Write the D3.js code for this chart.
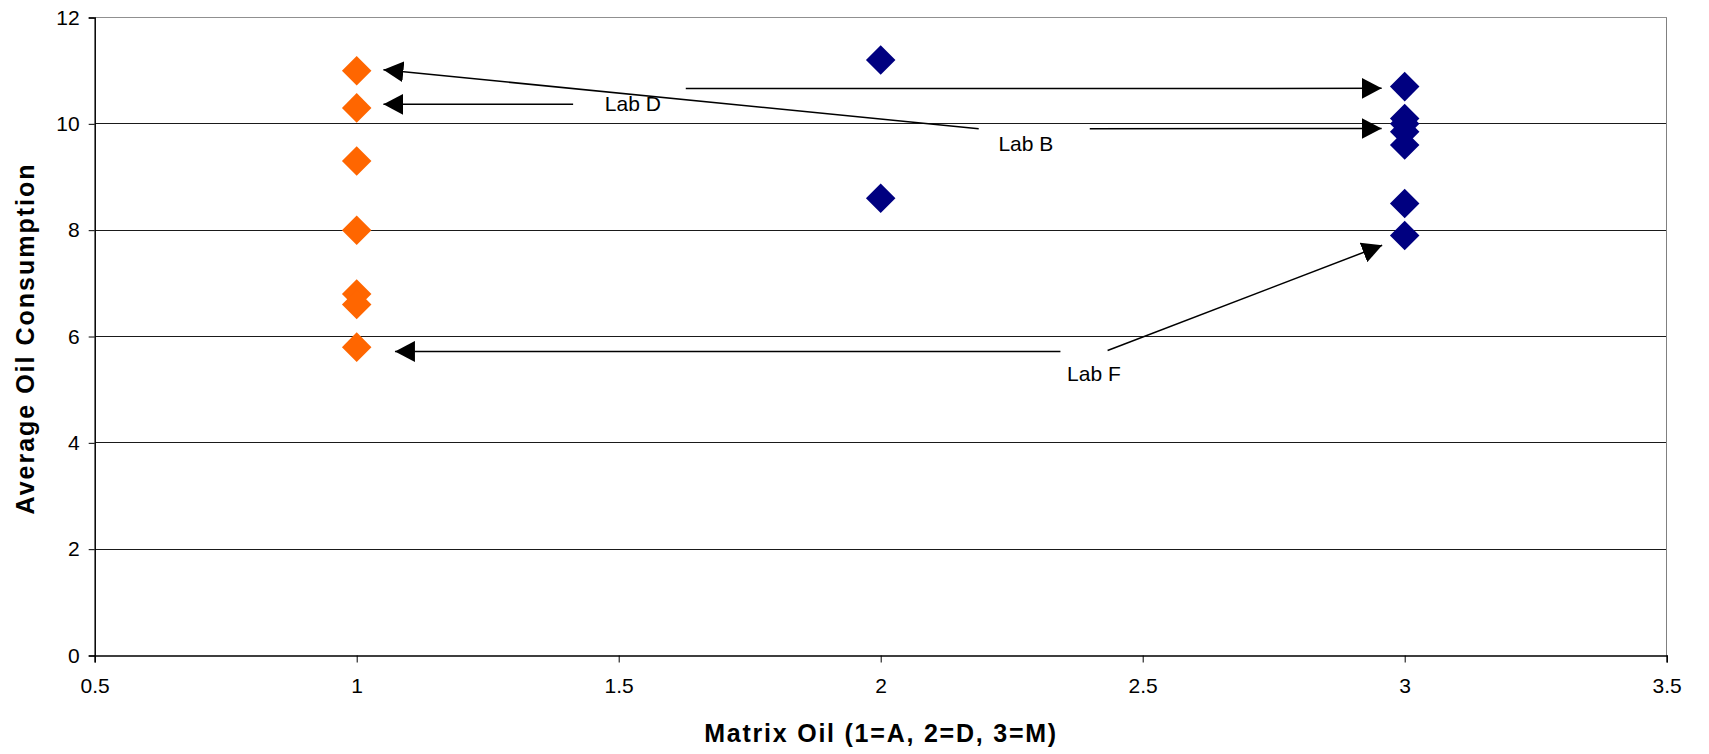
<!DOCTYPE html>
<html lang="en">
<head>
<meta charset="utf-8">
<title>Average Oil Consumption vs Matrix Oil</title>
<script src="https://cdn.jsdelivr.net/npm/d3@7"></script>
<style>
  body { margin: 0; background: #fff; }
  text { font-family: "Liberation Sans", Arial, sans-serif; }
</style>
</head>
<body>
<script>
// matrix oil A (x = 1), orange
var oilAx = [1, 1, 1, 1, 1, 1, 1];
var oilAy = [11.0, 10.3, 9.3, 8.0, 6.8, 6.6, 5.8];
// matrix oil D and M (x = 2, 3), navy
var oilDMx = [2, 2, 3, 3, 3, 3, 3, 3, 3];
var oilDMy = [11.2, 8.6, 10.7, 10.1, 9.85, 9.6, 8.5, 7.9, 10.0];

var xTicks = [0.5, 1, 1.5, 2, 2.5, 3, 3.5];
var yTicks = [0, 2, 4, 6, 8, 10, 12];

// callouts, in data units
var labNames = ["Lab D", "Lab B", "Lab F"];
var labX = [1.527, 2.277, 2.407];
var labY = [10.245, 9.495, 5.164];
// arrows: start (x0,y0) -> head (x1,y1)
var arrowX0 = [1.413, 1.628, 2.187, 2.399, 2.343, 2.433];
var arrowY0 = [10.366, 10.665, 9.906, 9.906, 5.719, 5.738];
var arrowX1 = [1.051, 2.956, 1.051, 2.956, 1.073, 2.957];
var arrowY1 = [10.366, 10.667, 11.017, 9.913, 5.719, 7.716];

(function(){
var W = 1709, H = 754;
var pLeft = 94.7, pRight = 1666.7, pTop = 17.5, pBottom = 655.5;

var svg = d3.select("body").append("svg")
    .attr("width", W)
    .attr("height", H);

var x = d3.scaleLinear().domain([0.5, 3.5]).range([pLeft, pRight]);
var y = d3.scaleLinear().domain([0, 12]).range([pBottom, pTop]);

// horizontal gridlines
svg.append("g").selectAll("line")
    .data(yTicks.filter(function(d){ return d > 0; }))
    .enter().append("line")
    .attr("x1", pLeft).attr("x2", pRight)
    .attr("y1", function(d){ return y(d); })
    .attr("y2", function(d){ return y(d); })
    .attr("stroke", function(d){ return d == 12 ? "#909090" : "#1a1a1a"; })
    .attr("stroke-width", function(d){ return d == 12 ? 1.5 : 1; })
    .attr("shape-rendering", "crispEdges");

// right border
svg.append("line")
    .attr("x1", pRight).attr("x2", pRight)
    .attr("y1", pTop).attr("y2", pBottom)
    .attr("stroke", "#808080").attr("stroke-width", 1.5)
    .attr("shape-rendering", "crispEdges");

// axes
var xAxis = svg.append("g")
    .attr("transform", "translate(0," + pBottom + ")")
    .call(d3.axisBottom(x).tickValues(xTicks).tickSize(7).tickPadding(16)
        .tickFormat(function(d){ return String(d); }));
var yAxis = svg.append("g")
    .attr("transform", "translate(" + pLeft + ",0)")
    .call(d3.axisLeft(y).tickValues(yTicks).tickSize(6).tickPadding(9)
        .tickFormat(function(d){ return String(d); }));

[xAxis, yAxis].forEach(function(a){
    a.attr("font-size", 21).attr("font-family", "'Liberation Sans', Arial, sans-serif");
    a.select(".domain").attr("stroke", "#000").attr("stroke-width", 1.5);
    a.selectAll(".tick line").attr("stroke", "#000").attr("stroke-width", 1);
    a.selectAll(".tick text").attr("fill", "#000");
});

// axis titles
svg.append("text")
    .attr("x", (pLeft + pRight) / 2 - 0.5)
    .attr("y", 742)
    .attr("text-anchor", "middle")
    .attr("textLength", 352)
    .attr("lengthAdjust", "spacing")
    .style("font-size", "25px")
    .style("font-weight", "bold")
    .text("Matrix Oil (1=A, 2=D, 3=M)");

svg.append("text")
    .attr("transform", "translate(34," + ((pTop + pBottom) / 2 + 3) + ") rotate(-90)")
    .attr("text-anchor", "middle")
    .attr("textLength", 350)
    .attr("lengthAdjust", "spacing")
    .style("font-size", "25px")
    .style("font-weight", "bold")
    .text("Average Oil Consumption");

// diamond markers
var diamond = d3.symbol().type(d3.symbolSquare).size(436);

function drawSeries(xs, ys, colour) {
    svg.append("g").selectAll("path")
        .data(ys)
        .enter().append("path")
        .attr("d", diamond)
        .attr("transform", function(d, i){
            return "translate(" + x(xs[i]) + "," + y(d) + ") rotate(45)";
        })
        .attr("fill", colour);
}
drawSeries(oilAx, oilAy, "#FF6600");
drawSeries(oilDMx, oilDMy, "#000080");

// arrow heads
svg.append("defs").append("marker")
    .attr("id", "head")
    .attr("viewBox", "0 -10.5 20 21")
    .attr("refX", 20).attr("refY", 0)
    .attr("markerUnits", "userSpaceOnUse")
    .attr("markerWidth", 20).attr("markerHeight", 21)
    .attr("orient", "auto")
  .append("path")
    .attr("d", "M0,-10.5L20,0L0,10.5Z")
    .attr("fill", "#000");

svg.append("g").selectAll("line")
    .data(arrowX0)
    .enter().append("line")
    .attr("x1", function(d){ return x(d); })
    .attr("y1", function(d, i){ return y(arrowY0[i]); })
    .attr("x2", function(d, i){ return x(arrowX1[i]); })
    .attr("y2", function(d, i){ return y(arrowY1[i]); })
    .attr("stroke", "#000")
    .attr("stroke-width", 1.5)
    .attr("marker-end", "url(#head)");

// lab labels
svg.append("g").selectAll("text")
    .data(labNames)
    .enter().append("text")
    .attr("x", function(d, i){ return x(labX[i]); })
    .attr("y", function(d, i){ return y(labY[i]); })
    .attr("text-anchor", "middle")
    .style("font-size", "21px")
    .text(function(d){ return d; });
})();
</script>
</body>
</html>
